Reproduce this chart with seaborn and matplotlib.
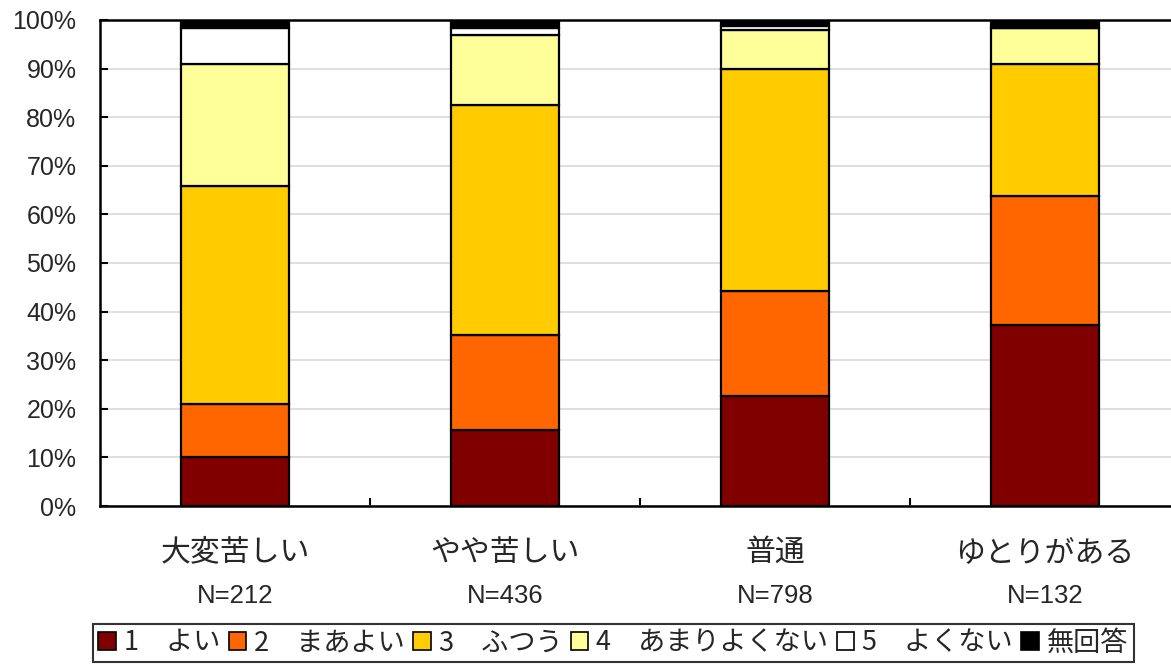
import numpy as np
import pandas as pd
import matplotlib
matplotlib.use("Agg")
import matplotlib.pyplot as plt
from matplotlib.patches import Patch
import seaborn as sns

# Household economic situation groups and sample sizes
groups = ["大変苦しい", "やや苦しい", "普通", "ゆとりがある"]
sizes = ["N=212", "N=436", "N=798", "N=132"]

# Share of each response (%) per group
resp_labels = ["1\u3000よい", "2\u3000まあよい", "3\u3000ふつう", "4\u3000あまりよくない", "5\u3000よくない", "無回答"]
yoi = [10.1, 15.6, 22.6, 37.2]
maayoi = [10.9, 19.6, 21.6, 26.6]
futsuu = [44.8, 47.3, 45.7, 27.1]
amari = [25.1, 14.4, 8.1, 7.5]
yokunai = [7.5, 1.4, 0.8, 0.0]
mukaitou = [1.6, 1.7, 1.2, 1.6]

colors = ["#800000", "#FF6600", "#FFCC00", "#FFFF99", "#FFFFFF", "#000000"]

sns.set_theme(style="white")
plt.rcParams["font.family"] = ["Noto Sans CJK JP", "DejaVu Sans"]

fig = plt.figure(figsize=(11.71, 6.66), dpi=100)
W, H = 1171, 666
ax = fig.add_axes([100 / W, 1 - 506 / H, 1080 / W, 486 / H])

series = [yoi, maayoi, futsuu, amari, yokunai, mukaitou]
bottom = np.zeros(len(groups))
for vals, col, lab in zip(series, colors, resp_labels):
    df = pd.DataFrame({"group": groups, "value": vals})
    sns.barplot(data=df, x="group", y="value", color=col, width=0.4,
                bottom=bottom.copy(), edgecolor="black", linewidth=1.6,
                saturation=1, ax=ax, zorder=3)
    bottom += np.array(vals)

ax.set_xlim(-0.5, 3.5)
ax.set_ylim(0, 100)
ax.set_yticks(np.arange(0, 101, 10))
ax.set_yticklabels([f"{v}%" for v in range(0, 101, 10)], fontsize=18,
                   family=["Liberation Sans", "DejaVu Sans"])
ax.yaxis.grid(True, color="#D9D9D9", linewidth=1.2, zorder=0)
ax.set_axisbelow(True)
ax.set_xlabel("")
ax.set_ylabel("")

# Category labels below the axis, with sample sizes underneath
ax.set_xticks(range(len(groups)))
ax.set_xticklabels(groups, fontsize=21.5)
ax.tick_params(axis="x", which="major", length=0, pad=22)
ax.set_xticks([0.5, 1.5, 2.5], minor=True)
ax.tick_params(axis="x", which="minor", direction="in", length=6, width=1.5, color="black", bottom=True)
ax.tick_params(axis="y", direction="in", length=6, width=1.5, color="black", left=True, pad=17)
for i, s in enumerate(sizes):
    ax.text(i, -0.185, s, transform=ax.get_xaxis_transform(), ha="center", va="center",
            fontsize=18.5, family=["Liberation Sans", "DejaVu Sans"])

for side in ["left", "bottom", "top"]:
    ax.spines[side].set_visible(True)
    ax.spines[side].set_color("black")
    ax.spines[side].set_linewidth(1.8)
ax.spines["right"].set_visible(False)

handles = [Patch(facecolor=c, edgecolor="black", linewidth=1.2) for c in colors]
leg = fig.legend(handles, resp_labels, loc="upper left", bbox_to_anchor=(93 / W, 1 - 624 / H),
                 ncol=6, fontsize=19.5, frameon=True, fancybox=False, edgecolor="black",
                 handlelength=0.65, handleheight=0.65, handletextpad=0.3, columnspacing=0.3,
                 borderpad=0.2, borderaxespad=0)
leg.get_frame().set_linewidth(1.5)

fig.savefig("out.png", dpi=100, facecolor="white")
